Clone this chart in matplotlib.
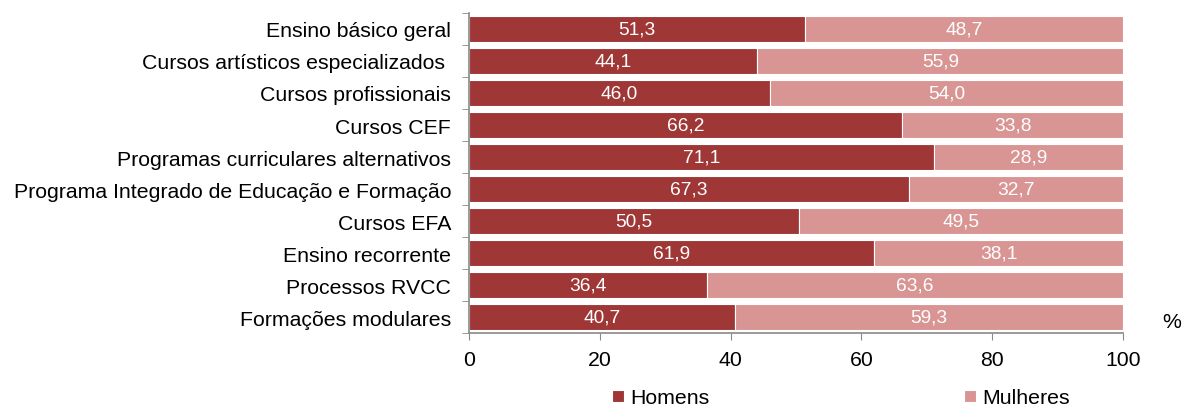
import numpy as np
import matplotlib
matplotlib.use('Agg')
import matplotlib.pyplot as plt
import matplotlib.ticker as ticker

plt.rcParams['font.family'] = ['Liberation Sans', 'DejaVu Sans']

categorias = ['Ensino básico geral', 'Cursos artísticos especializados ', 'Cursos profissionais',
              'Cursos CEF', 'Programas curriculares alternativos',
              'Programa Integrado de Educação e Formação', 'Cursos EFA', 'Ensino recorrente',
              'Processos RVCC', 'Formações modulares']
homens = [51.3, 44.1, 46.0, 66.2, 71.1, 67.3, 50.5, 61.9, 36.4, 40.7]
mulheres = [48.7, 55.9, 54.0, 33.8, 28.9, 32.7, 49.5, 38.1, 63.6, 59.3]
xticks = [0, 20, 40, 60, 80, 100]

cor_h = '#9E3736'
cor_m = '#D99594'
cinza = '#898989'
fs = 15.3

fig = plt.figure(figsize=(11.83, 4.10), dpi=100)
ax = fig.add_axes([0.3965, 0.185, 0.9493 - 0.3965, 0.781])

y = np.arange(len(categorias))
bh = ax.barh(y, homens, height=0.8, color=cor_h, edgecolor='white', linewidth=0.8, label='Homens')
bm = ax.barh(y, mulheres, left=homens, height=0.8, color=cor_m, edgecolor='white', linewidth=0.8, label='Mulheres')

def fmt(v):
	return ('%.1f' % v).replace('.', ',')

for i in range(len(categorias)):
	ax.text(homens[i] / 2, y[i], fmt(homens[i]), ha='center', va='center', color='white', fontsize=13.8)
	ax.text(homens[i] + mulheres[i] / 2, y[i], fmt(mulheres[i]), ha='center', va='center', color='white', fontsize=13.8)

ax.set_ylim(len(categorias) - 0.5, -0.5)
ax.set_xlim(0, 100)
ax.set_yticks(y)
ax.set_yticklabels(categorias, fontsize=fs)
ax.yaxis.set_minor_locator(ticker.FixedLocator(np.arange(-0.5, len(categorias), 1)))
ax.tick_params(axis='y', which='major', length=0, pad=13)
ax.tick_params(axis='y', which='minor', length=5, color=cinza, direction='out')
ax.set_xticks(xticks)
ax.set_xticklabels([str(t) for t in xticks], fontsize=fs)
ax.tick_params(axis='x', length=5, color=cinza, pad=7)

for s in ['top', 'right']:
	ax.spines[s].set_visible(False)
for s in ['left', 'bottom']:
	ax.spines[s].set_color(cinza)
	ax.spines[s].set_linewidth(1.2)

fig.text(1172 / 1183, 1 - 322 / 410, '%', fontsize=fs, ha='center', va='center')

fig.legend(handles=[bh, bm], loc='center', bbox_to_anchor=(841 / 1183, 1 - 399 / 410), ncol=2,
           frameon=False, fontsize=fs, handlelength=0.55, handleheight=0.55, handletextpad=0.3,
           columnspacing=12.0, borderpad=0)

fig.savefig('out.png', dpi=100)
